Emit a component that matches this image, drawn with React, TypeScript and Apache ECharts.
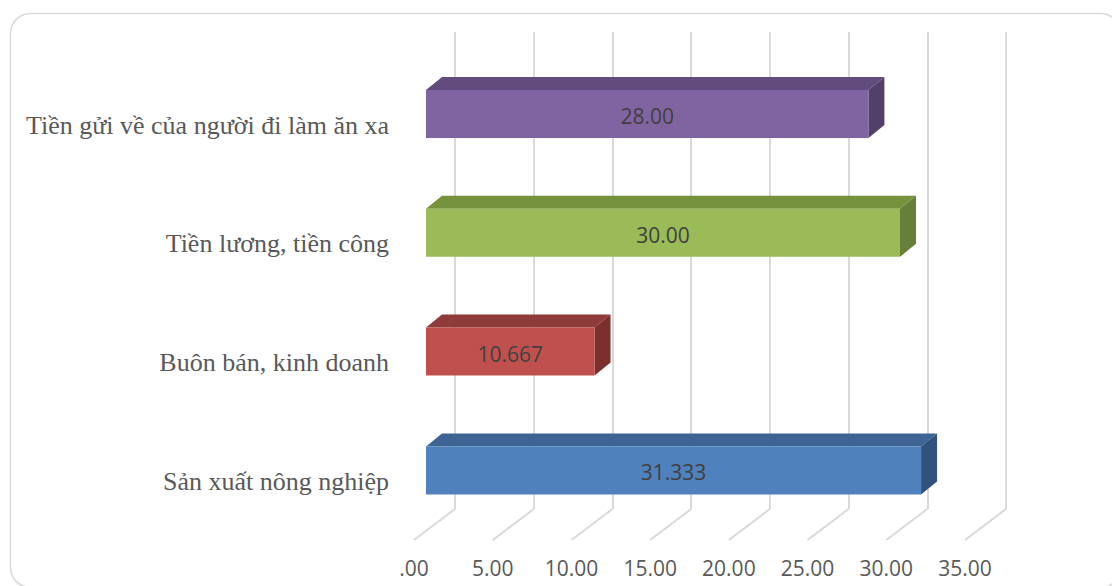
import React, { useEffect, useRef } from "react";
import * as echarts from "echarts";

// Income sources, listed top to bottom
const categories = [
  "Tiền gửi về của người đi làm ăn xa",
  "Tiền lương, tiền công",
  "Buôn bán, kinh doanh",
  "Sản xuất nông nghiệp",
];
const values = [28.0, 30.0, 10.667, 31.333];
const valueLabels = ["28.00", "30.00", "10.667", "31.333"];
const tickValues = [0, 5, 10, 15, 20, 25, 30, 35];

// front / top / side face colours for each bar
const frontColors = ["#8064A2", "#9BBB59", "#C0504D", "#4F81BD"];
const topColors = ["#624C7E", "#77923D", "#8F3B39", "#3D6492"];
const sideColors = ["#523F6A", "#66803A", "#7C2F2D", "#31527C"];

const DEPTH_X = 16;
const DEPTH_Y = -13;

export default function App() {
  const ref = useRef<HTMLDivElement>(null);

  useEffect(() => {
    if (!ref.current) return;
    const chart = echarts.init(ref.current, undefined, { renderer: "svg" });

    const barData = values.map((v, i) => [v, i]);
    const tickData = tickValues.map((v) => [v, 0]);

    chart.setOption({
      animation: false,
      backgroundColor: "#ffffff",
      graphic: [
        {
          type: "rect",
          shape: { x: 10.5, y: 13.5, width: 1110, height: 574, r: 20 },
          style: { fill: "none", stroke: "#d9d9d9", lineWidth: 1.5 },
          silent: true,
          z: -10,
        },
      ],
      grid: [
        { left: 426, width: 553, top: 54.6, height: 475.2 },
        { left: 455, width: 551, top: 32, height: 477 },
        { left: 414, width: 551, top: 32, height: 508 },
      ],
      xAxis: [
        { type: "value", gridIndex: 0, min: 0, max: 35, interval: 5, show: false },
        {
          type: "value",
          gridIndex: 1,
          min: 0,
          max: 35,
          interval: 5,
          axisLine: { show: false },
          axisTick: { show: false },
          axisLabel: { show: false },
          splitLine: { show: true, lineStyle: { color: "#d9d9d9", width: 2 } },
        },
        {
          type: "value",
          gridIndex: 2,
          min: 0,
          max: 35,
          interval: 5,
          axisLine: { show: false },
          axisTick: { show: false },
          splitLine: { show: false },
          axisLabel: {
            show: true,
            margin: 17,
            color: "#595959",
            fontFamily: "Open Sans",
            fontSize: 21,
            formatter: (v: number) => (v === 0 ? ".00" : v.toFixed(2)),
          },
        },
      ],
      yAxis: [
        {
          type: "category",
          gridIndex: 0,
          data: categories,
          inverse: true,
          axisLine: { show: false },
          axisTick: { show: false },
          splitLine: { show: false },
          axisLabel: {
            margin: 37,
            color: "#595959",
            fontFamily: "Liberation Serif",
            fontSize: 26,
            verticalAlign: "top",
            lineHeight: 22,
          },
        },
        { type: "value", gridIndex: 1, min: 0, max: 1, show: false },
        { type: "value", gridIndex: 2, min: 0, max: 1, show: false },
      ],
      series: [
        {
          type: "custom",
          name: "floor",
          xAxisIndex: 1,
          yAxisIndex: 1,
          silent: true,
          z: 1,
          data: tickData,
          renderItem: (params: any, api: any) => {
            const p = api.coord([api.value(0), 0]);
            return {
              type: "line",
              shape: { x1: p[0], y1: p[1], x2: p[0] - 41, y2: p[1] + 31 },
              style: { stroke: "#d9d9d9", lineWidth: 2 },
            };
          },
        },
        {
          type: "custom",
          name: "bars",
          xAxisIndex: 0,
          yAxisIndex: 0,
          z: 3,
          encode: { x: 0, y: 1 },
          data: barData,
          renderItem: (params: any, api: any) => {
            const i = params.dataIndex;
            const v = api.value(0);
            const ci = api.value(1);
            const start = api.coord([0, ci]);
            const end = api.coord([v, ci]);
            const band = api.size([0, 1])[1];
            const h = band * 0.404;
            const top = start[1] - h / 2;
            const bottom = start[1] + h / 2;
            const x0 = start[0];
            const x1 = end[0];
            return {
              type: "group",
              children: [
                {
                  type: "polygon",
                  shape: {
                    points: [
                      [x0, top],
                      [x0 + DEPTH_X, top + DEPTH_Y],
                      [x1 + DEPTH_X, top + DEPTH_Y],
                      [x1, top],
                    ],
                  },
                  style: { fill: topColors[i] },
                },
                {
                  type: "polygon",
                  shape: {
                    points: [
                      [x1, top],
                      [x1 + DEPTH_X, top + DEPTH_Y],
                      [x1 + DEPTH_X, bottom + DEPTH_Y],
                      [x1, bottom],
                    ],
                  },
                  style: { fill: sideColors[i] },
                },
                {
                  type: "rect",
                  shape: { x: x0, y: top, width: x1 - x0, height: h },
                  style: { fill: frontColors[i] },
                },
                {
                  type: "text",
                  style: {
                    text: valueLabels[i],
                    x: (x0 + x1) / 2,
                    y: start[1] + 2,
                    align: "center",
                    verticalAlign: "middle",
                    fill: "#404040",
                    fontFamily: "Open Sans",
                    fontSize: 21,
                  },
                },
              ],
            };
          },
        },
      ],
    });

    return () => chart.dispose();
  }, []);

  return (
    <div
      ref={ref}
      style={{ position: "fixed", left: 0, top: 0, width: 1112, height: 586 }}
    />
  );
}
